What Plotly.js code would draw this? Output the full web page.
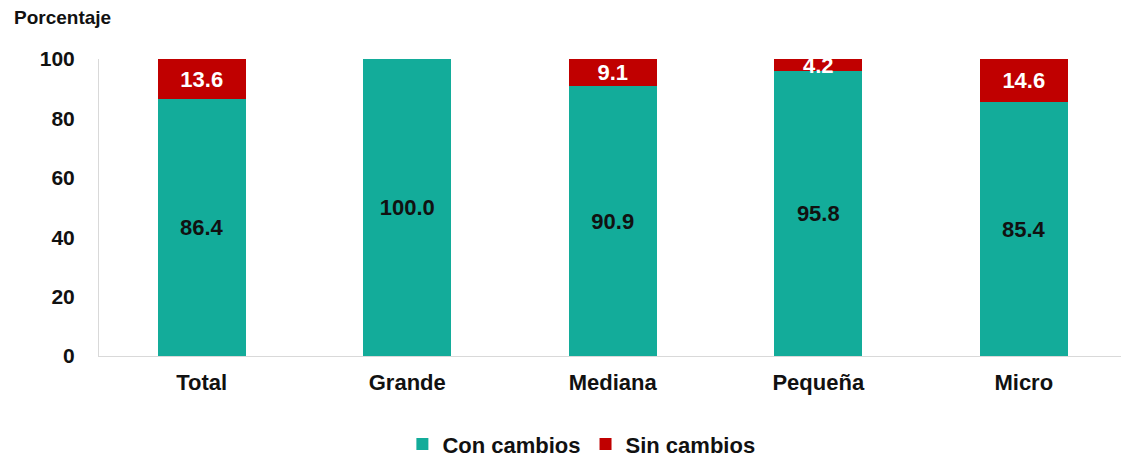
<!DOCTYPE html>
<html>
<head>
<meta charset="utf-8">
<script src="https://cdn.plot.ly/plotly-3.0.1.min.js"></script>
<style>html,body{margin:0;padding:0;background:#fff;}#chart{width:1121px;height:460px;}</style>
</head>
<body>
<div id="chart"></div>
<script>
const categories = ['Total', 'Grande', 'Mediana', 'Pequeña', 'Micro'];
const conCambios = [86.4, 100.0, 90.9, 95.8, 85.4];
const sinCambios = [13.6, 0, 9.1, 4.2, 14.6];
const yTicks = [0, 20, 40, 60, 80, 100];
const seriesNames = ['Con cambios', 'Sin cambios'];

const fmt = v => v > 0 ? v.toFixed(1) : '';
const FONT = 'Liberation Sans, Arial, sans-serif';

const traces = [
  {
    type: 'bar', name: seriesNames[0], x: categories, y: conCambios,
    marker: {color: '#13AC9A'}, width: 0.43,
    text: conCambios.map(fmt), textposition: 'inside', insidetextanchor: 'middle',
    textfont: {family: FONT, size: 22, color: '#111', weight: 'bold'},
    hoverinfo: 'none'
  },
  {
    type: 'bar', name: seriesNames[1], x: categories, y: sinCambios,
    marker: {color: '#C00000'}, width: 0.43,
    text: sinCambios.map(fmt), textposition: 'inside', insidetextanchor: 'middle',
    textfont: {family: FONT, size: 22, color: '#fff', weight: 'bold'},
    hoverinfo: 'none'
  }
];

const layout = {
  width: 1121, height: 460,
  margin: {l: 99, r: 0, t: 59, b: 104, autoexpand: false},
  barmode: 'stack',
  paper_bgcolor: '#fff', plot_bgcolor: '#fff',
  font: {family: FONT, color: '#111'},
  uniformtext: {mode: 'show', minsize: 22},
  xaxis: {
    range: [-0.5, 4.473],
    showline: true, linecolor: '#d9d9d9', linewidth: 1,
    showgrid: false, zeroline: false, ticks: '',
    ticklabelstandoff: 7, automargin: false,
    tickfont: {family: FONT, size: 22, color: '#111', weight: 'bold'}
  },
  yaxis: {
    range: [0, 100], tickvals: yTicks, ticktext: yTicks.map(String),
    showline: true, linecolor: '#d9d9d9', linewidth: 1,
    showgrid: false, zeroline: false, ticks: '',
    ticklabelstandoff: 19, automargin: false,
    tickfont: {family: FONT, size: 21, color: '#111', weight: 'bold'}
  },
  showlegend: true,
  legend: {
    orientation: 'h', xref: 'paper', yref: 'paper', traceorder: 'normal',
    x: 0.472, xanchor: 'center', y: -0.297, yanchor: 'middle',
    font: {family: FONT, size: 22, color: '#111', weight: 'bold'},
    itemwidth: 30, tracegroupgap: 0
  },
  annotations: [{
    text: 'Porcentaje', xref: 'paper', yref: 'paper',
    x: -0.085, y: 1.14, xanchor: 'left', yanchor: 'middle',
    showarrow: false,
    font: {family: FONT, size: 19, color: '#111', weight: 'bold'}
  }]
};

Plotly.newPlot('chart', traces, layout, {displayModeBar: false, staticPlot: true});
</script>
</body>
</html>
